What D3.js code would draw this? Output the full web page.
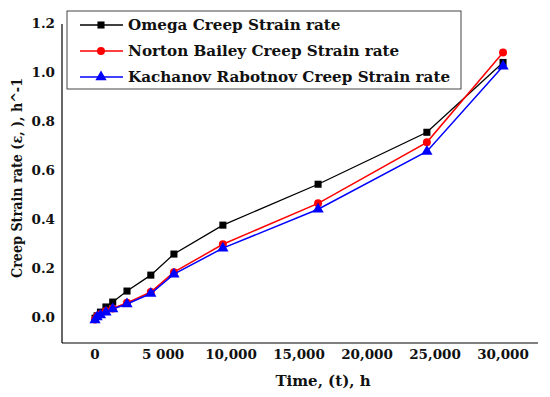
<!DOCTYPE html>
<html>
<head>
<meta charset="utf-8">
<script src="https://cdn.jsdelivr.net/npm/d3@7"></script>
<style>
  body { margin: 0; background: #fff; }
</style>
</head>
<body>
<div id="chart-container"></div>
<script>
// time in hours (shared by all three series)
let timeH = [0, 150, 400, 800, 1300, 2350, 4100, 5800, 9400, 16400, 24400, 30000];
let omega = [-0.005, 0.005, 0.02, 0.041, 0.061, 0.106, 0.171, 0.257, 0.375, 0.542, 0.754, 1.039];
let nortonBailey = [-0.01, 0.003, 0.012, 0.025, 0.035, 0.058, 0.102, 0.183, 0.297, 0.464, 0.713, 1.08];
let kachanov = [-0.012, 0.0, 0.008, 0.02, 0.033, 0.053, 0.096, 0.175, 0.281, 0.44, 0.676, 1.023];
let seriesNames = ["Omega Creep Strain rate", "Norton Bailey Creep Strain rate", "Kachanov Rabotnov Creep Strain rate"];
let xTicks = [0, 5000, 10000, 15000, 20000, 25000, 30000];
let xTickLabels = ["0", "5 000", "10,000", "15,000", "20,000", "25,000", "30,000"];
let yTicks = [0, 0.2, 0.4, 0.6, 0.8, 1.0, 1.2];

let svg = d3.select("#chart-container").append("svg")
  .attr("width", 550).attr("height", 397)
  .attr("font-family", "'DejaVu Serif', serif")
  .attr("font-weight", "bold");

let x = d3.scaleLinear().domain([-2430, 32570]).range([62, 538]),
    y = d3.scaleLinear().domain([-0.106, 1.2]).range([343, 23]);

let series = [
  { name: seriesNames[0], values: omega, color: "#000", width: 1.3, symbol: d3.symbolSquare, size: 50 },
  { name: seriesNames[1], values: nortonBailey, color: "#ff0000", width: 1.5, symbol: d3.symbolCircle, size: 50 },
  { name: seriesNames[2], values: kachanov, color: "#0000ff", width: 1.5, symbol: d3.symbolTriangle, size: 55 }
];

// axes: plain lines, no tick marks
svg.append("line").attr("x1", 62).attr("x2", 62).attr("y1", y(1.2) + 1).attr("y2", 343)
  .attr("stroke", "#000").attr("stroke-width", 1.2);
svg.append("line").attr("x1", 62).attr("x2", 538).attr("y1", 343).attr("y2", 343)
  .attr("stroke", "#000").attr("stroke-width", 1.2);

svg.selectAll(".ytick").data(yTicks).enter().append("text")
  .attr("class", "ytick")
  .attr("x", 55).attr("y", d => y(d)).attr("dy", "0.35em")
  .attr("text-anchor", "end").attr("font-size", 13.5).attr("fill", "#111")
  .text(d => d3.format(".1f")(d));

svg.selectAll(".xtick").data(xTicks).enter().append("text")
  .attr("class", "xtick")
  .attr("x", d => x(d)).attr("y", 359)
  .attr("text-anchor", "middle").attr("font-size", 13.5).attr("fill", "#111")
  .text((d, i) => xTickLabels[i]);

svg.append("text").attr("x", 323).attr("y", 386).attr("text-anchor", "middle")
  .attr("font-size", 15).attr("fill", "#111").text("Time, (t), h");

svg.append("text").attr("transform", "translate(22,178) rotate(-90)")
  .attr("text-anchor", "middle").attr("font-size", 15).attr("fill", "#111")
  .attr("textLength", 200).attr("lengthAdjust", "spacingAndGlyphs")
  .text("Creep Strain rate (ε, ), h^-1");

let line = d3.line().x(d => x(d[0])).y(d => y(d[1]));

series.forEach(s => {
  let pts = timeH.map((t, i) => [t, s.values[i]]);
  let g = svg.append("g");
  g.append("path").datum(pts).attr("d", line)
    .attr("fill", "none").attr("stroke", s.color).attr("stroke-width", s.width);
  g.selectAll("path.m").data(pts).enter().append("path").attr("class", "m")
    .attr("transform", d => `translate(${x(d[0])},${y(d[1])})`)
    .attr("d", d3.symbol().type(s.symbol).size(s.size))
    .attr("fill", s.color);
});

// legend
let lg = svg.append("g").attr("transform", "translate(67,11)");
lg.append("rect").attr("width", 394).attr("height", 78)
  .attr("fill", "#fff").attr("stroke", "#444").attr("stroke-width", 1);
series.forEach((s, i) => {
  let ly = 14 + i * 26;
  lg.append("line").attr("x1", 13).attr("x2", 56).attr("y1", ly).attr("y2", ly)
    .attr("stroke", s.color).attr("stroke-width", s.width);
  lg.append("path").attr("transform", `translate(34,${ly})`)
    .attr("d", d3.symbol().type(s.symbol).size(s.size)).attr("fill", s.color);
  lg.append("text").attr("x", 61).attr("y", ly).attr("dy", "0.35em")
    .attr("font-size", 15.2).attr("fill", "#111").text(s.name);
});
</script>
</body>
</html>
